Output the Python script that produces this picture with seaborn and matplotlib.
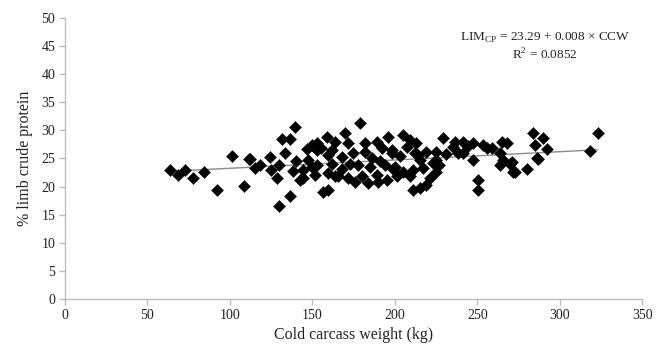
import matplotlib
matplotlib.use("Agg")
import matplotlib.pyplot as plt
import seaborn as sns
import pandas as pd
import numpy as np

# Cold carcass weight (kg)
ccw = [63.6, 68.5, 72.7, 77.6, 84, 92, 101, 108.5, 111.5, 112, 115, 118, 124, 125, 128.3,
       130, 130, 131.3, 133.3, 136.4, 136.4, 138, 139.4, 142.4, 144, 144, 146.5, 149.5, 150,
       151.5, 152.5, 153, 153, 156.4, 158.6, 159.4, 159.6, 159.6, 161.6, 163.6, 163.6, 165.5,
       167.7, 169.7, 171.5, 171.5, 174.7, 175.8, 177.6, 178.8, 179.8, 181.8, 181.8, 183.6,
       184.8, 189, 189, 189.7, 192, 194, 195, 195.8, 198, 198, 198.8, 200, 201, 205, 205,
       209, 209, 211, 211, 212, 213, 215, 215, 217, 219, 219, 221, 225, 225, 225, 227, 229.3,
       235.4, 236.4, 241.4, 241.4, 247.5, 247.5, 250.5, 250.5, 253.5, 258.6, 263.6, 263.6,
       264.7, 265.6, 267.7, 269.7, 270.7, 271.7, 272.7, 279.8, 283.8, 284.8, 285.9, 286.9,
       289.9, 292, 318, 323,
       140, 147, 155, 162, 168, 173, 186, 191, 203, 207, 214, 223, 231, 238, 244, 256]
# % limb crude protein
lcp = [23.0, 22.0, 23.0, 21.5, 22.6, 19.4, 25.4, 20.1, 24.9, 24.9, 23.3, 23.8, 25.3, 23.0, 21.5,
       23.8, 16.5, 28.4, 26.0, 28.4, 18.3, 22.7, 30.6, 21.2, 23.0, 21.5, 26.6, 27.4, 23.5,
       22.0, 26.5, 27.8, 23.8, 19.1, 28.9, 22.4, 25.6, 19.4, 24.1, 28.0, 21.8, 21.8,
       23.2, 29.6, 27.8, 21.5, 26.0, 20.9, 23.8, 31.3, 21.8, 27.8, 26.2, 20.6,
       23.5, 28.0, 22.1, 20.9, 26.8, 23.8, 21.2, 28.9, 26.5, 26.0, 23.2, 23.5, 21.8, 29.2, 22.6,
       28.3, 21.8, 23.0, 19.4, 25.9, 27.7, 24.7, 19.7, 23.3, 26.2, 20.3, 21.5, 26.2, 24.7, 22.6, 23.8, 28.6,
       27.1, 28.0, 28.0, 25.9, 27.7, 24.7, 21.2, 19.4, 27.4, 26.8, 25.9, 23.8,
       28.0, 24.7, 27.7, 24.1, 24.4, 22.6, 22.6, 23.2, 29.6, 27.4, 25.0, 24.9,
       28.6, 26.6, 26.4, 29.6,
       24.5, 24.8, 26.8, 26.5, 25.2, 24.0, 25.0, 24.6, 25.4, 27.0, 25.6, 24.2, 25.8, 26.0, 27.2, 26.9]

df = pd.DataFrame({"ccw": ccw, "lcp": lcp})

sns.set_theme(style="white")
plt.rcParams["font.family"] = ["Liberation Serif", "DejaVu Serif"]
plt.rcParams["mathtext.fontset"] = "custom"
plt.rcParams["mathtext.rm"] = "Liberation Serif"

fig = plt.figure(figsize=(6.72, 3.52), dpi=100)
ax = fig.add_axes([0.0967, 0.1506, 0.8593, 0.7983])

sns.regplot(data=df, x="ccw", y="lcp", ax=ax, ci=None, truncate=True,
            scatter=False, line_kws={"color": "#8c8c8c", "lw": 1.0, "zorder": 1})
sns.scatterplot(data=df, x="ccw", y="lcp", ax=ax, marker="D", s=38,
                color="black", edgecolor="black", linewidth=0.3, zorder=3)

ax.set_xlim(0, 350)
ax.set_ylim(0, 50)
ax.set_xticks(np.arange(0, 351, 50))
ax.set_yticks(np.arange(0, 51, 5))
for s in ["top", "right"]:
    ax.spines[s].set_visible(False)
for s in ["left", "bottom"]:
    ax.spines[s].set_color("#bdbdbd")
    ax.spines[s].set_linewidth(1.0)
ax.tick_params(axis="both", which="major", direction="out", length=4, width=1,
               color="#bdbdbd", labelsize=10, labelcolor="#222222", pad=3,
               bottom=True, left=True)
ax.set_xlabel("Cold carcass weight (kg)", fontsize=11.5, color="#222222", labelpad=4)
ax.set_ylabel("% limb crude protein", fontsize=11.5, color="#222222", labelpad=6)

ax.text(0.831, 0.928, r"LIM$_{\mathrm{CP}}$ = 23.29 + 0.008 × CCW", transform=ax.transAxes,
        ha="center", va="center", fontsize=9.5, color="#222222")
ax.text(0.831, 0.868, r"R$^{2}$ = 0.0852", transform=ax.transAxes,
        ha="center", va="center", fontsize=9.5, color="#222222")

fig.savefig("out.png", dpi=100)
